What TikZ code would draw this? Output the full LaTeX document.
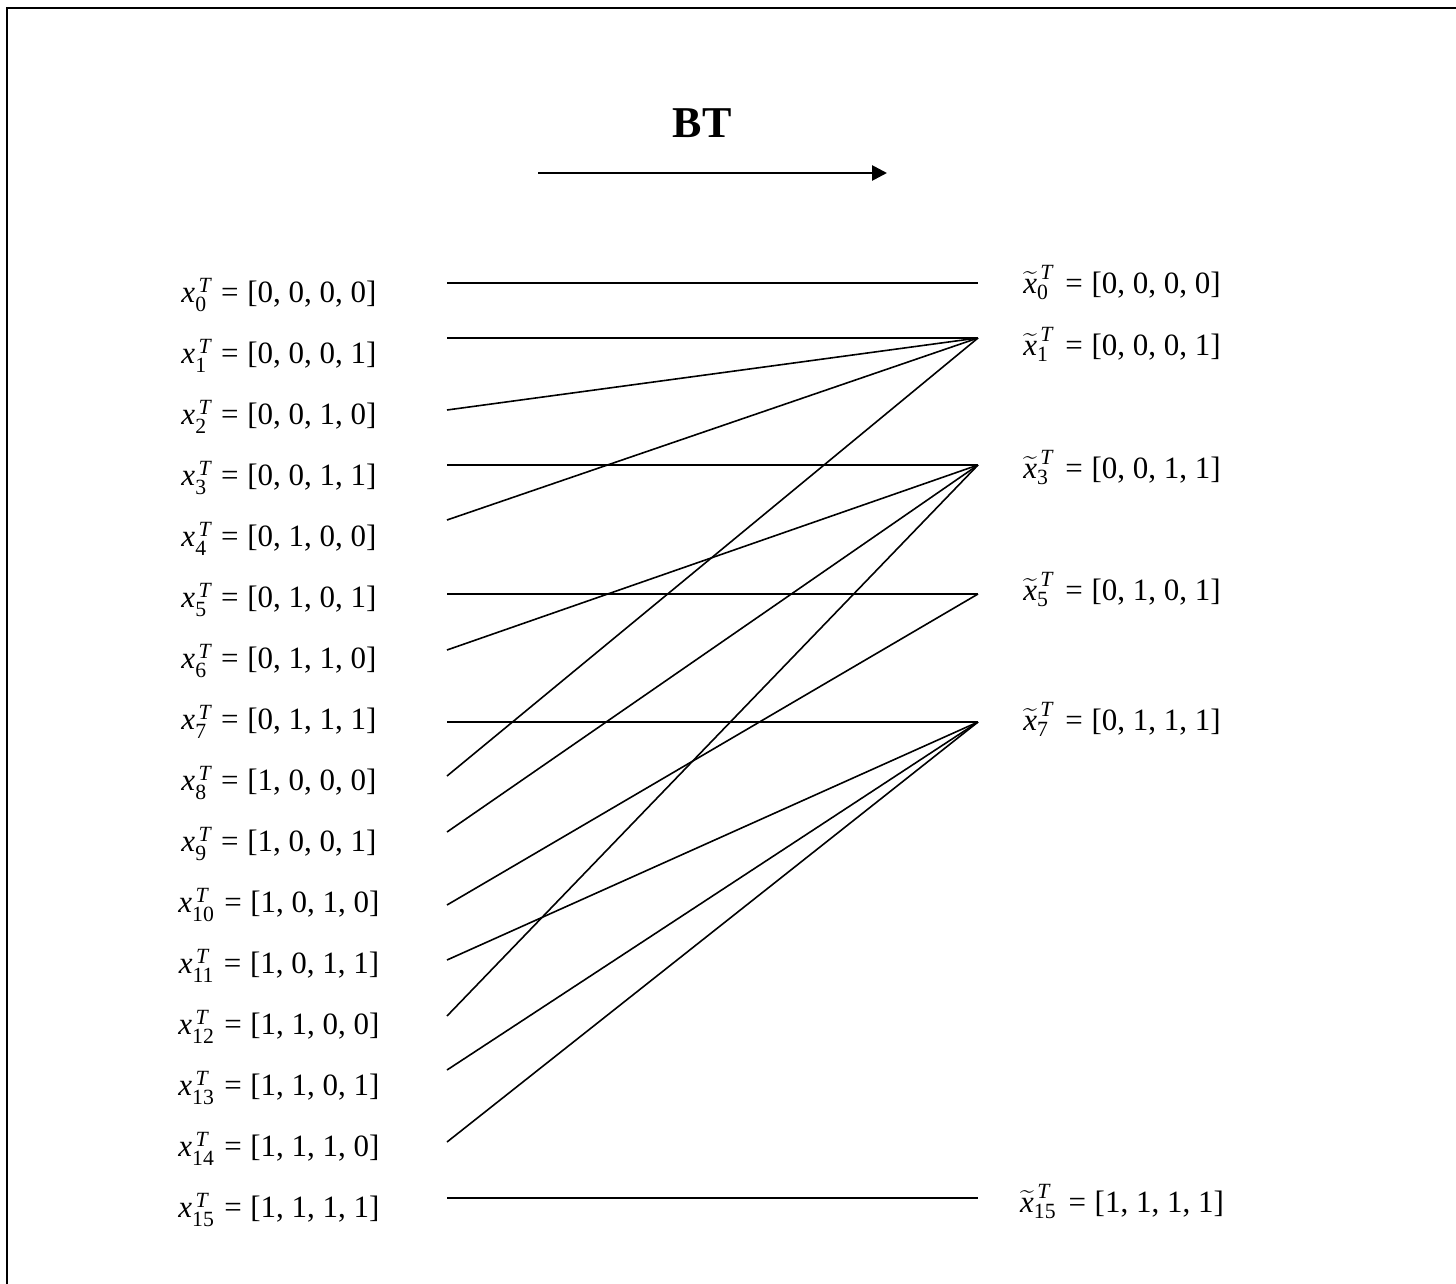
\documentclass[tikz,border=0pt]{standalone}
\usepackage{amsmath}
\usepackage{fontspec}
\setmainfont{Liberation Serif}
\usetikzlibrary{arrows.meta}
\newcommand{\xlab}[2]{\textit{x}$^{\,\textit{T}}_{\text{#1}}$\hspace{0.32em}=\hspace{0.28em}[#2]}
\newcommand{\xtlab}[2]{$\widetilde{\textit{x}}^{\,\textit{T}}_{\text{#1}}$\hspace{0.4em}=\hspace{0.28em}[#2]}
\begin{document}
\begin{tikzpicture}[x=1pt,y=-1pt,
  lab/.style={anchor=base,inner sep=0pt,font=\fontsize{31}{36}\selectfont},
  conn/.style={line width=1.6pt},
  frame/.style={line width=2.5pt}]
\useasboundingbox (0,0) rectangle (1456,1284);
\draw[frame] (7,1284) -- (7,8) -- (1456,8);
% title and arrow
\node[anchor=base,inner sep=0pt,font=\fontsize{44}{50}\selectfont\bfseries] (bt) at (702,138) {BT};
\coordinate (a1) at (538,173);
\coordinate (a2) at (887,173);
\draw[line width=2.7pt,-{Triangle[length=15pt,width=15pt]}] (a1) -- (a2);
% left labels
\node[lab] (l0) at (279,302) {\xlab{0}{0, 0, 0, 0}};
\node[lab] (l1) at (279,363) {\xlab{1}{0, 0, 0, 1}};
\node[lab] (l2) at (279,424) {\xlab{2}{0, 0, 1, 0}};
\node[lab] (l3) at (279,485) {\xlab{3}{0, 0, 1, 1}};
\node[lab] (l4) at (279,546) {\xlab{4}{0, 1, 0, 0}};
\node[lab] (l5) at (279,607) {\xlab{5}{0, 1, 0, 1}};
\node[lab] (l6) at (279,668) {\xlab{6}{0, 1, 1, 0}};
\node[lab] (l7) at (279,729) {\xlab{7}{0, 1, 1, 1}};
\node[lab] (l8) at (279,790) {\xlab{8}{1, 0, 0, 0}};
\node[lab] (l9) at (279,851) {\xlab{9}{1, 0, 0, 1}};
\node[lab] (l10) at (279,912) {\xlab{10}{1, 0, 1, 0}};
\node[lab] (l11) at (279,973) {\xlab{11}{1, 0, 1, 1}};
\node[lab] (l12) at (279,1034) {\xlab{12}{1, 1, 0, 0}};
\node[lab] (l13) at (279,1095) {\xlab{13}{1, 1, 0, 1}};
\node[lab] (l14) at (279,1156) {\xlab{14}{1, 1, 1, 0}};
\node[lab] (l15) at (279,1217) {\xlab{15}{1, 1, 1, 1}};
% right labels
\node[lab] (r0) at (1122,293) {\xtlab{0}{0, 0, 0, 0}};
\node[lab] (r1) at (1122,355) {\xtlab{1}{0, 0, 0, 1}};
\node[lab] (r3) at (1122,478) {\xtlab{3}{0, 0, 1, 1}};
\node[lab] (r5) at (1122,600) {\xtlab{5}{0, 1, 0, 1}};
\node[lab] (r7) at (1122,730) {\xtlab{7}{0, 1, 1, 1}};
\node[lab] (r15) at (1122,1212) {\xtlab{15}{1, 1, 1, 1}};
% connector endpoints
\coordinate (L0) at (447,283);
\coordinate (L1) at (447,338);
\coordinate (L2) at (447,410);
\coordinate (L3) at (447,465);
\coordinate (L4) at (447,520);
\coordinate (L5) at (447,594);
\coordinate (L6) at (447,650);
\coordinate (L7) at (447,722);
\coordinate (L8) at (447,776);
\coordinate (L9) at (447,832);
\coordinate (L10) at (447,905);
\coordinate (L11) at (447,960);
\coordinate (L12) at (447,1016);
\coordinate (L13) at (447,1070);
\coordinate (L14) at (447,1142);
\coordinate (L15) at (447,1198);
\coordinate (R0) at (978,283);
\coordinate (R1) at (978,338);
\coordinate (R3) at (978,465);
\coordinate (R5) at (978,594);
\coordinate (R7) at (978,722);
\coordinate (R15) at (978,1198);
% connectors
\draw[conn] (L0) -- (R0);
\draw[conn] (L1) -- (R1);
\draw[conn] (L2) -- (R1);
\draw[conn] (L4) -- (R1);
\draw[conn] (L8) -- (R1);
\draw[conn] (L3) -- (R3);
\draw[conn] (L6) -- (R3);
\draw[conn] (L9) -- (R3);
\draw[conn] (L12) -- (R3);
\draw[conn] (L5) -- (R5);
\draw[conn] (L10) -- (R5);
\draw[conn] (L7) -- (R7);
\draw[conn] (L11) -- (R7);
\draw[conn] (L13) -- (R7);
\draw[conn] (L14) -- (R7);
\draw[conn] (L15) -- (R15);
\end{tikzpicture}
\end{document}
